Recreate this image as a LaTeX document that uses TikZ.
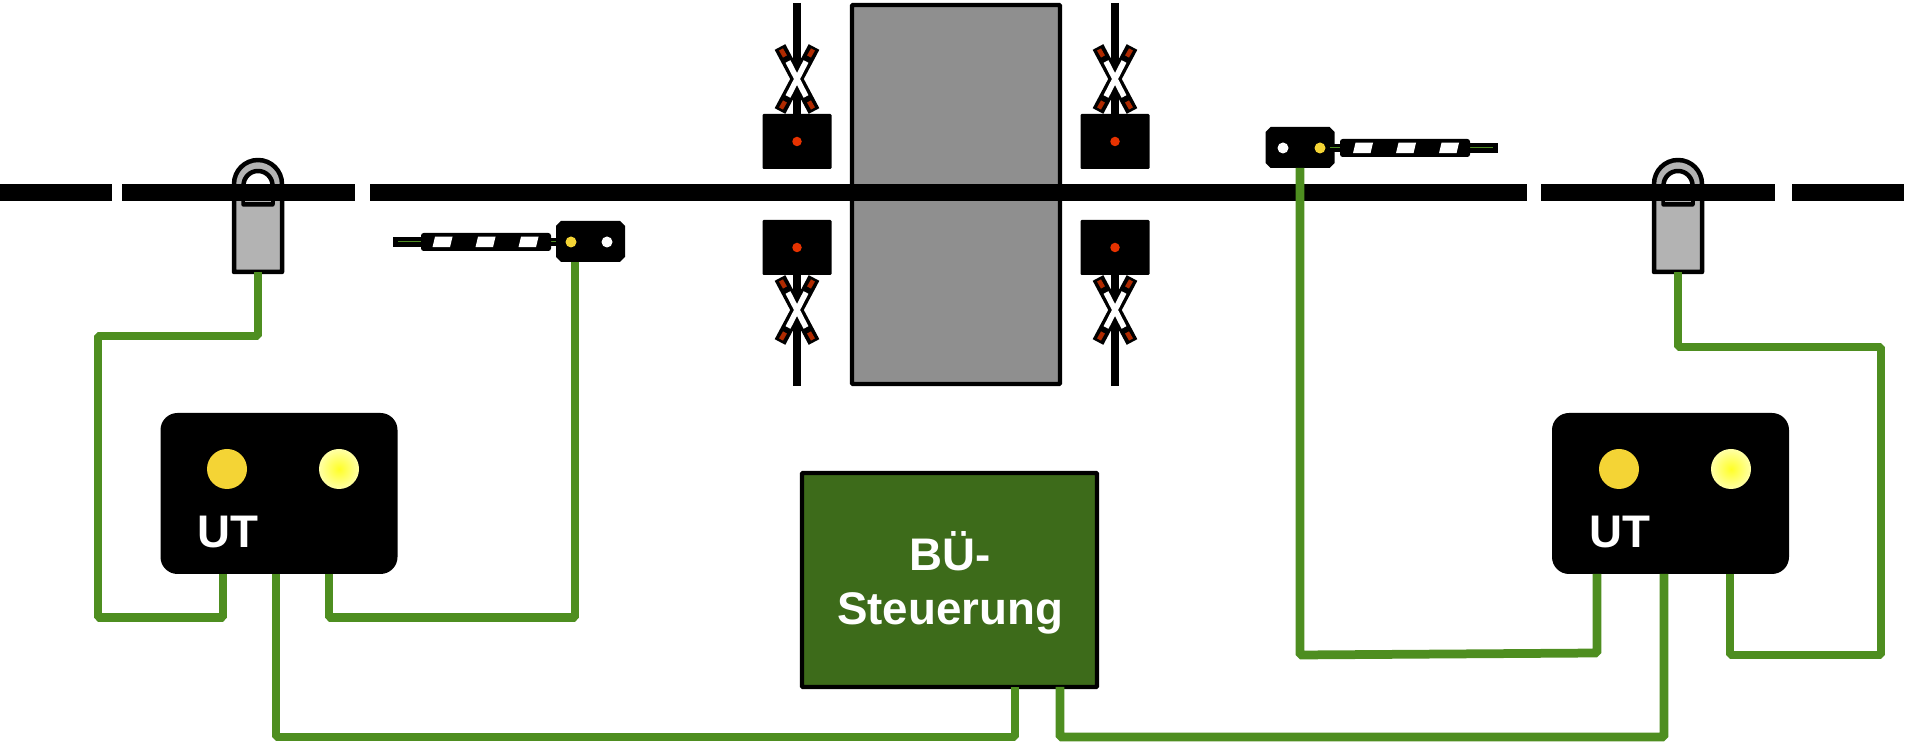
\documentclass[tikz,border=0pt]{standalone}
\usepackage{fontspec}
\setmainfont{Liberation Sans}
\definecolor{cwire}{HTML}{4E8E20}
\definecolor{croad}{HTML}{8F8F8F}
\definecolor{csensor}{HTML}{B3B3B3}
\definecolor{cctrl}{HTML}{3D6B1A}
\definecolor{cred}{HTML}{E63200}
\definecolor{cdarkred}{HTML}{B02A00}
\definecolor{camber}{HTML}{F4D435}
\tikzset{
  every node/.style={outer sep=0pt,inner sep=0pt},
  track/.style={line width=3.4mm},
  wire/.style={draw=cwire,line width=1.75mm,line join=bevel},
  post/.style={line width=1.6mm},
  sigbox/.style={fill=black,rounded corners=0.6pt,minimum width=1.38cm,minimum height=1.10cm},
  reddot/.style={circle,fill=cred,minimum size=0.19cm},
  armblack/.style={line width=2.4mm},
  armwhite/.style={white,line width=1.1mm},
  armred/.style={cdarkred,line width=0.9mm},
  sensorframe/.style={minimum width=0.96cm,minimum height=1.76cm},
  sensorbody/.style={fill=csensor,line width=0.9mm,line join=round},
  barrierframe/.style={minimum width=1.38cm,minimum height=0.82cm},
  barrierarm/.style={fill=black,rounded corners=1.5pt,minimum width=2.6cm,minimum height=0.36cm},
  barriertip/.style={line width=2mm},
  barrierlamp/.style={circle,minimum size=0.22cm},
  utbox/.style={fill=black,rounded corners=0.34cm,minimum width=4.74cm,minimum height=3.22cm},
  utlamp/.style={circle,minimum size=0.8cm},
  bigtext/.style={text=white,font=\bfseries\fontsize{26}{31}\selectfont,align=center},
}
\begin{document}
\begin{tikzpicture}
\useasboundingbox (0,0) rectangle (38.16,14.9);

% ================= road =================
\draw[fill=croad,line width=0.85mm,rounded corners=0.5pt] (17.04,7.22) rectangle (21.20,14.80);

% ================= crossing signals =================
\foreach \x/\n in {15.94/a,22.30/b}{
  \draw[post] (\x,14.84) -- (\x,12.6);
  \draw[post] (\x,9.4) -- (\x,7.18);
  \foreach \y in {13.32,8.70}{
    \begin{scope}[shift={(\x,\y)}]
      \draw[armblack] (-0.34,-0.64) -- (0.34,0.64);
      \draw[armblack] (0.34,-0.64) -- (-0.34,0.64);
      \draw[armwhite] (-0.18,-0.35) -- (0.18,0.35);
      \draw[armwhite] (0.18,-0.35) -- (-0.18,0.35);
      \foreach \sx/\sy in {1/1,1/-1,-1/1,-1/-1}
        \draw[armred] (\sx*0.24,\sy*0.45) -- (\sx*0.32,\sy*0.59);
    \end{scope}
  }
  \node[sigbox] (sig\n1) at (\x,12.07) {};
  \node[reddot] (lamp\n1) at (\x,12.07) {};
  \node[sigbox] (sig\n2) at (\x,9.95) {};
  \node[reddot] (lamp\n2) at (\x,9.95) {};
}

% ================= track sensors =================
\foreach \x/\n in {5.16/1,33.56/2}{
  \node[sensorframe] (sensor\n) at (\x,10.34) {};
  \draw[sensorbody] (sensor\n.south west) -- ++(0,1.76) arc (180:0:0.48) -- (sensor\n.south east) -- cycle;
  \draw[fill=white,line width=0.9mm,line join=round] (\x-0.29,10.81) -- (\x-0.29,11.19) arc (180:0:0.29) -- (\x+0.29,10.81) -- cycle;
  \fill[csensor] (\x-0.26,10.85) rectangle (\x+0.26,10.90);
}

% ================= track =================
\foreach \a/\b in {0/2.24,2.44/7.10,7.40/30.54,30.82/35.50,35.84/38.08}
  \draw[track] (\a,11.04) -- (\b,11.04);

% ================= barriers =================
\draw[barriertip] (7.86,10.06) -- (9,10.06);
\draw[post] (10.5,10.06) -- (11.5,10.06);
\draw[cwire,line width=0.2mm] (7.96,10.06) -- (9,10.06);
\draw[cwire,line width=0.2mm] (10.9,10.06) -- (11.4,10.06);
\node[barrierarm] (armL) at (9.72,10.06) {};
\node[barrierframe] (barrierL) at (11.81,10.07) {};
\node[barrierframe] (barrierR) at (26.00,11.95) {};
\foreach \n in {L,R}
  \fill (barrier\n.south west) ++(0.1,0) -- ++(-0.1,0.1) -- ++(0,0.62) -- ++(0.1,0.1) -- ++(1.18,0) -- ++(0.1,-0.1) -- ++(0,-0.62) -- ++(-0.1,-0.1) -- cycle;
\node[barrierlamp,fill=camber] (lampL) at (11.42,10.06) {};
\node[barrierlamp,fill=white] (whiteL) at (12.14,10.06) {};
\foreach \x in {8.65,9.51,10.37}
  \fill[white] (\x,9.955) -- ++(0.35,0) -- ++(0.05,0.21) -- ++(-0.35,0) -- cycle;

\draw[barriertip] (28.5,11.94) -- (29.96,11.94);
\draw[post] (26.5,11.94) -- (27.2,11.94);
\draw[cwire,line width=0.2mm] (29,11.94) -- (29.86,11.94);
\draw[cwire,line width=0.2mm] (26.6,11.94) -- (26.9,11.94);
\node[barrierarm] (armR) at (28.10,11.94) {};
\node[barrierlamp,fill=white] (whiteR) at (25.66,11.94) {};
\node[barrierlamp,fill=camber] (lampR) at (26.40,11.94) {};
\foreach \x in {27.06,27.92,28.78}
  \fill[white] (\x,11.835) -- ++(0.35,0) -- ++(0.05,0.21) -- ++(-0.35,0) -- cycle;

% ================= UT panels =================
\node[utbox] (ut1) at (5.58,5.03) {};
\node[utlamp,fill=camber] (ambera) at (4.54,5.52) {};
\node[utlamp,inner color=yellow!85!white,outer color=yellow!35!white] (yellowa) at (6.78,5.52) {};
\node[bigtext] (utlabela) at (4.56,4.25) {UT};

\node[utbox] (ut2) at (33.41,5.03) {};
\node[utlamp,fill=camber] (amberb) at (32.38,5.52) {};
\node[utlamp,inner color=yellow!85!white,outer color=yellow!35!white] (yellowb) at (34.62,5.52) {};
\node[bigtext] (utlabelb) at (32.39,4.25) {UT};

% ================= control unit =================
\node[draw,fill=cctrl,line width=0.85mm,rounded corners=0.5pt,minimum width=5.90cm,minimum height=4.28cm] (ctrl) at (18.99,3.30) {};
\node[bigtext] (ctrllabel) at (19.00,3.24) {BÜ-\\Steuerung};

% ================= wiring =================
\draw[wire] (sensor1.south) -- (5.16,8.18) -- (1.96,8.18) -- (1.96,2.55) -| ([xshift=-1.12cm]ut1.south);
\draw[wire] ([xshift=1cm]ut1.south) -- (6.58,2.55) -| ([xshift=-0.31cm]barrierL.south);
\draw[wire] ([xshift=-0.06cm]ut1.south) -- (5.52,0.16) -| ([xshift=1.31cm]ctrl.south);
\draw[wire] ([xshift=2.21cm]ctrl.south) -- (21.20,0.16) -| ([xshift=-0.13cm]ut2.south);
\draw[wire] (barrierR.south) -- (26.00,1.80) -- (31.94,1.84) -- ([xshift=-1.47cm]ut2.south);
\draw[wire] (sensor2.south) -- (33.56,7.96) -- (37.62,7.96) -- (37.62,1.80) -| ([xshift=1.19cm]ut2.south);
\end{tikzpicture}
\end{document}
